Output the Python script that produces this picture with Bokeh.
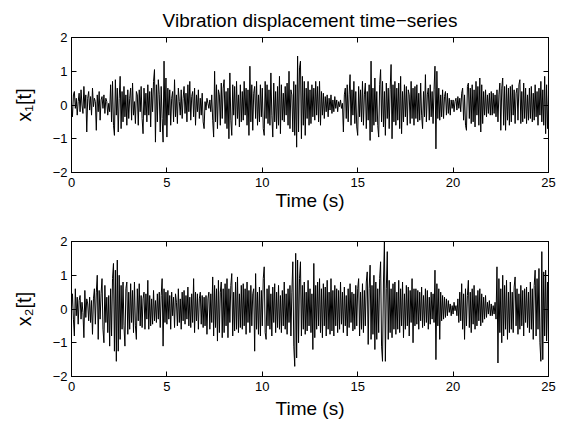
from bokeh.plotting import figure
from bokeh.layouts import column
from bokeh.models import Range1d, FixedTicker, LinearAxis, ColumnDataSource
from bokeh.embed import file_html
from bokeh.resources import INLINE

# displacement samples, 20 per second (one row = 1 s)
x1 = [
    0.0, -0.35, 0.3, 0.4, -0.1, 0.2, -0.3, 0.1, 0.35, -0.2, 0.45, 0.0, -0.25, 0.55, -0.1, 0.3, -0.8, 0.2, 0.4, -0.15,
    0.25, -0.3, 0.5, -0.05, 0.2, 0.1, -0.75, 0.3, -0.2, 0.4, -0.45, 0.15, 0.25, -0.1, 0.3, -0.25, 0.2, 0.1, -0.3, 0.05,
    -0.2, 0.6, -0.5, 0.7, -0.6, -0.9, 0.75, -0.3, 0.5, -0.8, 0.2, 0.85, -0.7, 0.4, -0.5, 0.55, -0.35, 0.3, -0.6, 0.45,
    -0.4, 0.2, 0.5, -0.45, 0.65, -0.3, 0.1, -0.55, 0.4, 0.3, -0.6, 0.45, -0.2, 0.55, -0.4, -0.85, 0.5, -0.3, 0.35, -0.5,
    0.6, -0.3, 0.4, -0.65, 0.5, -0.2, 0.7, 1.05, -1.1, 0.6, -0.5, 0.75, 0.3, -0.8, 0.55, -0.4, -1.1, 1.3, -0.6, 0.8,
    -0.95, 0.5, -0.3, 0.45, -0.6, 0.2, 0.4, -0.5, 0.75, -0.35, 0.3, -0.55, 0.5, 0.1, -0.3, 0.45, -0.4, 0.2, 0.55, -0.25,
    0.35, -0.5, 0.6, -0.2, 0.7, -0.45, 0.25, 0.4, -0.35, 0.5, -0.6, 0.3, -0.2, 0.45, -0.4, 0.2, -0.3, 0.35, -0.5, -0.7,
    0.1, -0.15, 0.2, 0.05, -0.1, 0.15, -0.2, 0.3, -0.45, -0.95, 1.0, -0.5, 0.6, -0.7, 0.45, 0.3, -0.6, 0.65, -0.4, 0.5,
    0.75, -0.55, 0.4, -0.7, 0.5, -1.0, 0.95, -0.45, -0.9, 0.6, -0.3, 0.55, -0.6, 0.7, -0.4, 0.3, -0.65, 0.6, -0.5, 0.4,
    -0.45, 0.7, -0.3, 0.5, -0.6, 0.45, -0.9, 1.15, -0.5, 0.6, -0.75, 0.35, 0.55, -0.4, 0.7, -0.6, 0.3, -0.5, 0.6, -0.35,
    0.5, -0.7, -0.9, 0.7, -0.4, 0.6, -0.55, 0.45, -0.6, 0.95, -0.3, -0.95, 0.65, -0.5, 0.4, -0.7, 0.55, -0.6, 0.85, -0.85,
    0.6, -0.45, 0.35, -0.5, 0.55, -0.3, 0.65, -0.6, 1.0, -0.7, 0.45, 0.3, -0.8, 0.7, -0.9, 0.6, -1.25, 1.45, -0.8, 1.1,
    1.3, -1.0, 0.85, -0.6, 0.7, -0.9, 0.5, -0.4, 0.7, -0.6, 0.45, -0.55, 0.6, -0.35, 0.5, -0.45, 0.7, -0.3, 0.55, -0.5,
    0.7, -0.6, 0.4, -0.3, 0.35, -0.4, 0.25, -0.2, 0.3, -0.35, 0.2, -0.15, 0.3, -0.25, 0.15, -0.2, 0.25, -0.1, 0.15, -0.2,
    0.1, -0.05, 0.15, -0.1, 0.05, -0.8, 0.3, 0.5, -0.4, 0.6, -0.5, 0.3, 0.9, -0.6, 0.45, -0.3, 0.7, -0.55, 0.4, -0.65,
    -0.9, 0.55, -0.35, 0.45, -0.5, 0.7, -0.6, 0.3, 0.65, -0.7, 0.4, -0.45, 0.6, -1.05, 1.3, -0.8, 0.5, -0.6, 0.8, -0.5,
    0.4, -0.6, -0.95, 0.6, 1.05, -0.5, 0.7, -0.65, 0.4, -0.9, 0.65, -0.4, 0.5, -0.7, 0.45, 1.2, -1.0, 0.6, -0.5, 0.7,
    -0.6, 0.5, -0.45, 0.65, -0.7, 0.85, -0.85, 0.4, -0.5, 0.6, -0.35, 0.55, -0.6, 0.45, 0.3, -0.55, 0.7, -0.4, 0.5, -0.6,
    0.55, -0.4, 0.6, -0.5, 0.35, -0.45, 0.65, -0.3, -0.7, 0.4, -0.35, 0.9, -0.5, 0.3, 0.5, -0.45, 0.6, -0.35, 0.4, -0.55,
    0.45, 1.15, -1.3, 1.0, -0.4, 0.5, -0.45, 0.3, -0.35, 0.45, -0.4, 0.25, 0.4, -0.3, 0.35, -0.25, 0.2, -0.3, 0.15, -0.1,
    0.15, -0.2, 0.1, 0.2, -0.15, 0.25, -0.1, 0.2, -0.2, 0.35, 0.5, -0.45, 0.3, -0.6, -0.75, 0.55, 0.65, -0.4, 0.5, -0.55,
    0.6, -0.5, 0.45, -0.65, 0.7, -0.3, 0.55, -0.6, 0.8, -0.8, 0.6, -0.55, 0.4, -0.3, 0.45, -0.35, 0.3, -0.25, 0.35, -0.3,
    0.4, -0.3, 0.35, -0.25, 0.3, -0.35, 0.45, -0.5, 0.3, 0.65, -0.75, 0.5, 0.8, -0.6, 0.55, -0.75, 0.6, -0.45, 0.5, -0.6,
    0.55, -0.5, 0.6, -0.3, 0.45, -0.55, 0.35, 0.5, -0.45, 0.6, 0.75, -0.55, 0.4, -0.5, 0.65, -0.4, 0.5, -0.55, 0.3, -0.45,
    0.5, -0.4, 0.55, -0.5, 0.35, -0.45, 0.6, -0.35, 0.4, -0.6, 0.5, -0.3, 0.7, -0.5, 0.45, -0.6, 0.85, -0.85, 0.6, -0.7,
    0.3,
]

x2 = [
    0.0, 0.45, -0.3, -0.8, 0.6, -0.2, 0.35, -0.45, 0.25, 0.4, -0.3, 0.2, -0.1, -0.85, 0.55, -0.25, 0.3, 0.15, -0.35, 0.35,
    -0.4, 0.25, -0.75, 0.3, 0.6, -0.45, 0.5, 1.0, -0.9, 0.55, -0.3, 0.45, 0.9, -0.6, -1.0, 0.7, -0.4, 0.35, -0.7, 0.4,
    -1.1, 0.6, -0.8, 0.9, 1.35, -1.25, 1.15, -1.55, 1.45, -1.25, 1.0, -0.9, 0.7, -0.6, 0.8, -0.5, -1.1, 0.6, 0.8, -0.75,
    0.5, -0.6, 0.75, -0.4, 0.55, -0.7, 0.8, -0.5, -0.9, 0.6, -0.35, 0.75, -0.5, 0.4, -0.55, 0.3, 0.5, -0.6, 0.45, -0.3,
    0.85, -0.6, 0.4, -0.5, 0.3, -0.45, 0.55, -0.35, 0.25, -0.4, 0.45, -0.3, 0.5, -0.55, 0.4, 0.9, -1.1, 0.6, -0.4, 0.5,
    -0.45, 0.55, -0.3, 0.4, -0.6, 0.5, -0.2, 0.35, -0.55, 0.45, 0.2, -0.5, 0.6, -0.4, 0.3, -0.6, 0.5, -0.35, 0.55, -0.45,
    0.4, -0.3, 0.65, -0.5, 0.35, -0.55, 0.45, -0.4, 0.9, -0.7, 0.5, -0.35, 0.45, -0.6, 0.3, 0.5, -0.45, 0.4, -0.55, 0.35,
    -0.5, 0.4, -0.75, 0.3, 0.5, -0.6, 0.45, -0.4, 0.95, -0.8, 0.7, -0.55, 0.6, -0.95, 0.85, -0.7, 0.5, 0.8, -0.85, 0.6,
    -0.7, 0.75, -0.5, 0.9, -0.85, 0.6, -0.4, 0.7, 1.05, -0.8, 0.5, -0.65, 0.8, -0.6, 0.95, -0.7, 0.45, -0.55, 0.7, -0.6,
    0.75, -0.5, 0.6, -0.75, 0.8, -0.4, 0.55, -0.7, 0.7, -0.5, 0.45, 0.6, -1.25, 1.05, -0.6, 0.5, -0.75, 0.65, -0.8, 0.55,
    -0.5, 0.9, 1.25, -0.7, -0.9, 0.6, -0.5, 0.7, -0.6, 0.45, -0.8, 0.65, -0.4, 0.75, -0.7, 0.5, -0.55, 0.7, -0.6, 0.4,
    -0.7, 0.55, -0.5, 0.8, -0.6, 0.45, -0.75, 0.6, -0.4, 0.7, -0.8, 0.5, 1.4, -1.1, -1.7, 1.65, -1.45, 1.45, -1.0, 0.9,
    1.4, -0.8, 0.7, -0.6, 0.8, -0.75, 0.5, -0.65, 0.85, -0.5, 0.6, -0.7, 0.45, -1.2, 1.35, -0.85, 0.7, -0.6, 0.8, -0.5,
    0.9, -0.7, 0.6, -0.85, 0.75, -0.5, 0.65, -0.8, 0.85, -0.6, 0.5, -0.75, 0.9, -0.65, 0.55, -0.8, 0.7, -0.5, 0.6, -0.7,
    0.55, -0.6, 0.8, -0.45, 0.5, -0.7, 0.65, -0.5, 0.4, -0.8, 0.6, -0.55, 0.75, -0.4, 0.5, -0.65, 0.45, -0.6, 0.7, -0.5,
    0.6, 0.9, -0.8, 0.5, -0.6, 0.75, -0.7, 0.55, -0.5, 0.8, 1.1, -1.05, 0.6, 1.3, -0.9, 0.7, -0.75, 1.0, -1.2, 0.8,
    -0.9, 0.6, -0.7, 0.9, 1.4, -1.1, -1.55, 0.8, 2.0, -1.55, 0.6, 1.7, -0.9, 0.85, -0.7, 0.6, -0.85, 0.75, -0.6, 0.8,
    -0.75, 0.5, -0.6, 0.85, -0.7, 0.6, -0.5, 0.8, -0.85, 0.45, -0.6, 0.7, -0.5, 0.65, -0.8, 0.55, -0.4, 0.9, -1.0, 0.6,
    -0.5, 0.6, -0.45, 0.55, -0.6, 0.5, -0.35, 0.65, -0.55, 0.4, -0.5, 0.6, -0.4, 0.55, -0.6, 0.35, -0.45, 0.5, -0.3, 0.45,
    -0.4, 1.15, -1.5, 0.75, -0.5, 0.6, -0.9, 0.5, -0.35, 0.4, -0.3, 0.35, -0.25, 0.3, -0.2, 0.25, -0.1, 0.15, -0.2, 0.1,
    -0.15, 0.2, -0.05, 0.1, -0.2, 0.3, -0.4, 0.5, -0.35, 0.75, -0.6, 0.45, -0.9, 0.6, -0.5, 0.4, 0.85, -0.55, 0.5, -0.7,
    0.6, -0.45, 0.7, -0.6, 0.4, -0.5, 0.55, -0.35, 0.6, -0.5, 0.45, -0.4, 0.35, -0.3, 0.4, -0.25, 0.2, -0.15, 0.25, -0.2,
    0.15, -0.2, 0.1, -0.15, 0.2, -0.3, 1.25, -1.6, 0.9, -0.7, 0.6, -1.0, 1.0, -0.8, 0.7, -0.6, 0.85, -0.9, 0.5, -0.7,
    0.8, -0.6, 0.5, -0.7, 0.65, 0.95, -0.5, 0.6, -0.75, 0.45, -0.6, 0.7, -0.5, 0.55, -0.8, 0.6, -0.4, 0.65, -0.55, 0.5,
    -0.7, 0.8, -0.6, 0.6, -0.9, 0.7, 1.15, -0.8, 0.9, -0.6, 1.2, -1.0, -1.55, 1.7, -1.5, 1.1, -0.8, 1.15, -0.95, 0.8,
    -1.0,
]

dt = 0.05  # seconds between samples
t1 = [i * dt for i in range(len(x1))]
t2 = [i * dt for i in range(len(x2))]

x_ticks = [0, 5, 10, 15, 20, 25]
y_ticks = [-2, -1, 0, 1, 2]
y_tick_labels = {-2: "\u22122", -1: "\u22121", 0: "0", 1: "1", 2: "2"}
title_text = "Vibration displacement time\u2212series"
x_label = "Time (s)"
y_labels = ["x\u2081[t]", "x\u2082[t]"]

FONT = "Liberation Sans"


def style_axis(ax, ticks, show_labels):
    ax.ticker = FixedTicker(ticks=ticks)
    ax.minor_tick_line_color = None
    ax.major_tick_in = 5
    ax.major_tick_out = 0
    ax.major_tick_line_color = "black"
    ax.axis_line_color = "black"
    ax.major_label_text_font = FONT
    ax.major_label_text_font_size = "13px"
    ax.major_label_text_color = "black"
    ax.axis_label_text_font = FONT
    ax.axis_label_text_font_style = "normal"
    ax.axis_label_text_font_size = "19px"
    ax.axis_label_text_color = "black"
    if not show_labels:
        ax.major_label_text_font_size = "0px"
        ax.major_label_text_color = None


def make_panel(tt, y, ylabel, height, top, bottom, xlabel_standoff, title=None):
    p = figure(width=567, height=height, output_backend="svg", toolbar_location=None,
               x_range=Range1d(0, 25), y_range=Range1d(-2, 2),
               min_border_left=71, min_border_right=19,
               min_border_top=top, min_border_bottom=bottom,
               x_axis_label=x_label, y_axis_label=ylabel)
    if title:
        p.title.text = title
        p.title.align = "center"
        p.title.text_font = FONT
        p.title.text_font_size = "19px"
        p.title.text_font_style = "normal"
        p.title.text_color = "black"
        p.title.standoff = 14
    p.grid.visible = False
    p.outline_line_color = "black"
    p.outline_line_alpha = 1
    p.background_fill_color = "white"
    p.border_fill_color = "white"
    style_axis(p.xaxis[0], x_ticks, True)
    style_axis(p.yaxis[0], y_ticks, True)
    p.yaxis[0].axis_label_text_font_size = "20px"
    p.yaxis[0].major_label_overrides = y_tick_labels
    p.xaxis[0].major_label_standoff = 5
    p.yaxis[0].major_label_standoff = 4
    p.xaxis[0].axis_label_standoff = xlabel_standoff
    p.yaxis[0].axis_label_standoff = 15
    top_ax = LinearAxis()
    right_ax = LinearAxis()
    style_axis(top_ax, x_ticks, False)
    style_axis(right_ax, y_ticks, False)
    p.add_layout(top_ax, "above")
    p.add_layout(right_ax, "right")
    src = ColumnDataSource(data=dict(t=tt, y=y))
    p.line("t", "y", source=src, line_color="black", line_width=1)
    return p


p1 = make_panel(t1, x1, y_labels[0], 214, 36, 42, 0, title=title_text)
p2 = make_panel(t2, x2, y_labels[1], 209, 27, 47, 4)

layout = column(p1, p2, spacing=0)
open("out.html", "w").write(file_html(layout, INLINE))
